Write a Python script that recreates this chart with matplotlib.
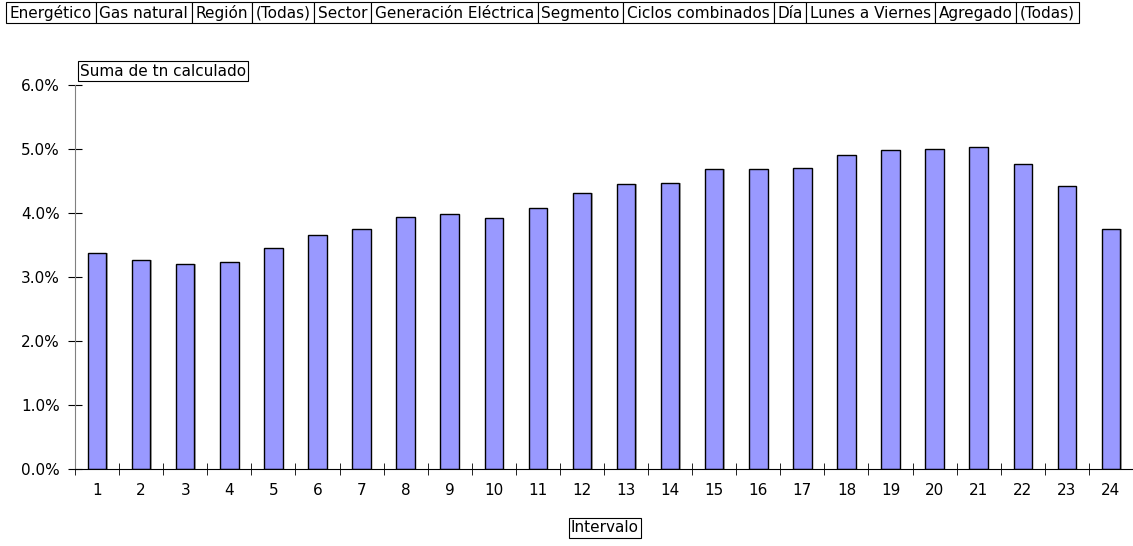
import matplotlib.pyplot as plt
from matplotlib.patches import Rectangle
from matplotlib.ticker import FuncFormatter, FixedLocator

# header filters (field, value)
filter_fields = ["Energético", "Región", "Sector", "Segmento", "Día", "Agregado"]
filter_values = ["Gas natural", "(Todas)", "Generación Eléctrica", "Ciclos combinados",
                 "Lunes a Viernes", "(Todas)"]

intervalos = list(range(1, 25))
pct = [3.37, 3.26, 3.21, 3.23, 3.46, 3.65, 3.75, 3.94, 3.98, 3.92, 4.08, 4.32,
       4.46, 4.47, 4.68, 4.68, 4.71, 4.90, 4.98, 5.00, 5.03, 4.76, 4.42, 3.75]

FS = 11
W, H = 1133, 546
plt.rcParams["font.family"] = ["DejaVu Sans"]
plt.rcParams["font.size"] = FS

fig = plt.figure(figsize=(W / 100, H / 100), dpi=100)
ax = fig.add_axes([75 / W, 1 - 469 / H, 1 - 75 / W, (469 - 85) / H])

x = list(range(len(intervalos)))
# soft grey shadow to the right, then the bars
ax.bar([i + 0.03 for i in x], pct, width=0.42, color="#b0b0b0", zorder=1)
ax.bar(x, pct, width=0.42, color="#9999ff", edgecolor="black", linewidth=1.0, zorder=2)

ax.set_xlim(-0.5, len(x) - 0.5)
ax.set_ylim(0, 6)
ax.set_yticks([0, 1, 2, 3, 4, 5, 6])
ax.yaxis.set_major_formatter(FuncFormatter(lambda v, p: "%.1f%%" % v))
ax.set_xticks(x)
ax.set_xticklabels([str(i) for i in intervalos])
ax.xaxis.set_minor_locator(FixedLocator([i + 0.5 for i in range(-1, len(x))]))
ax.tick_params(axis="x", which="major", length=0, pad=10, labelsize=FS)
ax.tick_params(axis="x", which="minor", length=9, direction="inout", color="black")
ax.tick_params(axis="y", length=10, direction="inout", pad=6, labelsize=FS, color="black")

for s in ["top", "right"]:
    ax.spines[s].set_visible(False)
ax.spines["left"].set_color("#808080")
ax.spines["bottom"].set_color("black")

box = dict(boxstyle="square,pad=0.15", facecolor="white", edgecolor="black", linewidth=0.8)

fig.text(80 / W, 1 - 71 / H, "Suma de tn calculado", va="center", ha="left",
         fontsize=FS, bbox=box)
fig.text(605 / W, 1 - 528 / H, "Intervalo", va="center", ha="center",
         fontsize=FS, bbox=box)

# header row of filter boxes laid side by side, sharing borders
fig.canvas.draw()
renderer = fig.canvas.get_renderer()
pad_px = 3.7
top, bot = 2, 23
xpos = 6
items = []
for f, v in zip(filter_fields, filter_values):
    items += [f, v]
for s in items:
    t = fig.text((xpos + pad_px) / W, 1 - 18 / H, s, va="baseline", ha="left",
                 fontsize=FS, zorder=3)
    w = t.get_window_extent(renderer).width
    bw = w + 2 * pad_px
    fig.patches.append(Rectangle((xpos / W, 1 - bot / H), bw / W, (bot - top) / H,
                                 transform=fig.transFigure, facecolor="white",
                                 edgecolor="black", linewidth=0.8, zorder=2))
    xpos += bw

fig.savefig("out.png", dpi=100)
